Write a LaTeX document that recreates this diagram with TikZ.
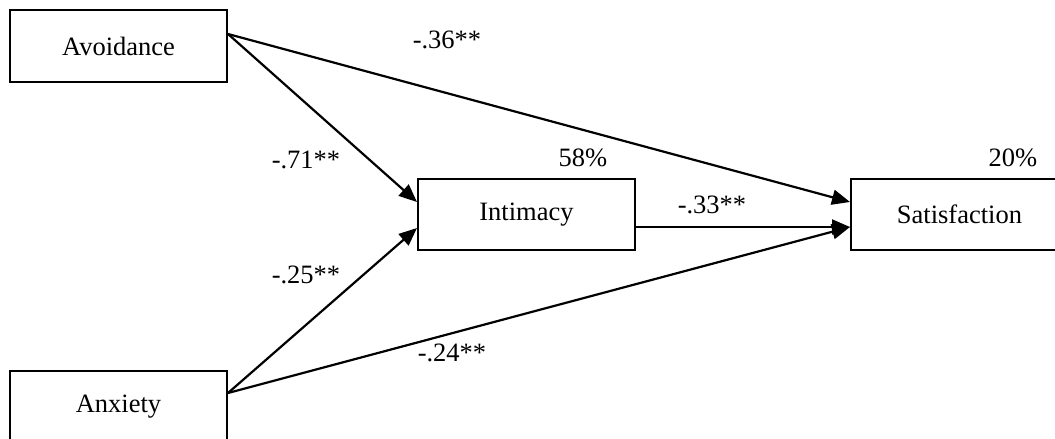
\documentclass[tikz,border=0pt]{standalone}
\usepackage{fontspec}
\setmainfont{Liberation Serif}
\usetikzlibrary{arrows.meta,calc}
\begin{document}
\begin{tikzpicture}[x=1pt,y=-1pt,
  box/.style={draw=black,line width=2pt,minimum width=217pt,minimum height=72pt,inner sep=0pt,font=\fontsize{26.5}{30}\selectfont},
  lbl/.style={inner sep=0pt,font=\fontsize{26.5}{30}\selectfont},
  conn/.style={line width=2.2pt,-{Triangle[length=18pt,width=15pt]}}]
\useasboundingbox (0,0) rectangle (1055,439);
\clip (0,0) rectangle (1055,439);
\node[box] (avoid) at (118.5,46) {Avoidance};
\node[box] (anx) at (118.5,407) {Anxiety};
\node[box,minimum height=71pt] (inti) at (526.5,214.5) {Intimacy};
\node[box,minimum height=71pt] (sat) at (959.5,214.5) {Satisfaction};
\coordinate (avS) at ([yshift=12pt]avoid.east);
\coordinate (anS) at ([yshift=14pt]anx.east);
\draw[conn] (avS) -- ([yshift=12.5pt]inti.west);
\draw[conn] (avS) -- ([yshift=12.5pt]sat.west);
\draw[conn] (anS) -- ([yshift=-13.5pt]inti.west);
\draw[conn] (anS) -- ([yshift=-12.5pt]sat.west);
\draw[conn] ([yshift=-12.5pt]inti.east) -- ([yshift=-12.5pt]sat.west);
\node[lbl] (l36) at (447,40) {-.36**};
\node[lbl] (l71) at (306,160) {-.71**};
\node[lbl] (l58) at (583,158) {58\%};
\node[lbl] (l20) at (1013,158) {20\%};
\node[lbl] (l33) at (712,205) {-.33**};
\node[lbl] (l25) at (306,275) {-.25**};
\node[lbl] (l24) at (452,353) {-.24**};
\end{tikzpicture}
\end{document}
